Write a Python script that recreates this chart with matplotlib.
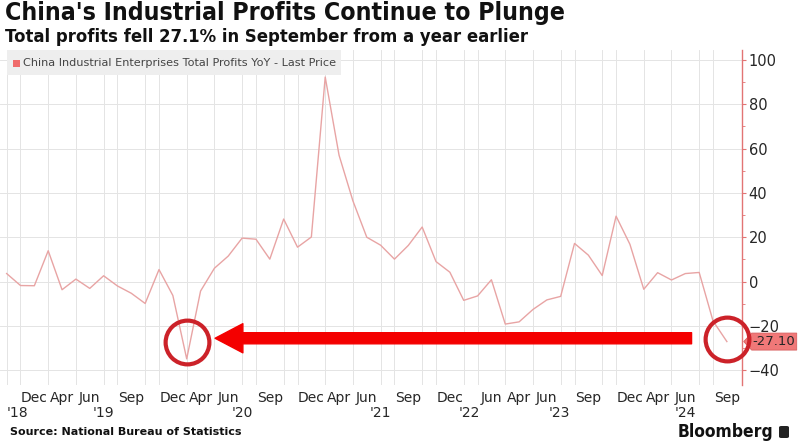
import matplotlib
matplotlib.use("Agg")
import matplotlib.pyplot as plt
import matplotlib.patches as mpatches
from matplotlib.transforms import blended_transform_factory

# monthly YoY change of industrial profits (Jan-Feb not shown, some months missing)
periods = ["2018-10", "2018-11", "2018-12",
           "2019-03", "2019-04", "2019-05", "2019-06", "2019-07", "2019-08",
           "2019-09", "2019-10", "2019-11", "2019-12",
           "2020-03", "2020-04", "2020-05", "2020-06", "2020-07", "2020-08",
           "2020-09", "2020-10", "2020-11", "2020-12",
           "2021-03", "2021-04", "2021-05", "2021-06", "2021-07", "2021-08",
           "2021-09", "2021-10", "2021-11", "2021-12",
           "2022-04", "2022-05", "2022-06",
           "2023-03", "2023-04", "2023-05", "2023-06", "2023-07", "2023-08",
           "2023-09", "2023-10", "2023-11", "2023-12",
           "2024-03", "2024-04", "2024-05", "2024-06", "2024-07", "2024-08",
           "2024-09"]
profits = [3.6, -1.8, -1.9,
           13.9, -3.7, 1.1, -3.1, 2.6, -2.0, -5.3, -9.9, 5.4, -6.3,
           -34.9, -4.3, 6.0, 11.5, 19.6, 19.1, 10.1, 28.2, 15.5, 20.1,
           92.3, 57.0, 36.4, 20.0, 16.4, 10.1, 16.3, 24.6, 9.0, 4.2,
           -8.5, -6.5, 0.8,
           -19.2, -18.2, -12.6, -8.3, -6.7, 17.2, 11.9, 2.7, 29.5, 16.8,
           -3.5, 4.0, 0.7, 3.6, 4.1, -17.8, -27.1]

month_ticks = ["2018-12", "2019-04", "2019-06", "2019-09", "2019-12",
               "2020-04", "2020-06", "2020-09", "2020-12",
               "2021-04", "2021-06", "2021-09", "2021-12",
               "2022-06", "2023-04", "2023-06", "2023-09", "2023-12",
               "2024-04", "2024-06", "2024-09"]
month_names = {"03": "Mar", "04": "Apr", "06": "Jun", "09": "Sep", "12": "Dec"}
year_labels = ["'18", "'19", "'20", "'21", "'22", "'23", "'24"]
year_pos = [0.8, 7.0, 17.0, 27.0, 33.4, 39.9, 49.0]

LINE = "#e8a4a4"
AXRED = "#e27474"
TXT = "#262626"

x = list(range(len(periods)))

fig = plt.figure(figsize=(8, 4.48), dpi=100)
ax = fig.add_axes([0.0, 1 - 385 / 448, 741.7 / 800, 335 / 448])

ax.plot(x, profits, color=LINE, lw=1.0, zorder=3)

ax.set_xlim(-0.48, 53.07)
ax.set_ylim(-46.7, 104.5)

# grid: every data point vertically, every 20 horizontally
ax.set_xticks(x, minor=True)
ax.grid(True, which="minor", axis="x", color="#e4e4e4", lw=0.7)
ax.set_yticks(range(-40, 101, 20))
ax.set_yticks(range(-40, 101, 10), minor=True)
ax.grid(True, which="major", axis="y", color="#e4e4e4", lw=0.7)

tick_idx = [periods.index(p) for p in month_ticks]
ax.set_xticks(tick_idx)
ax.set_xticklabels([month_names[p[5:]] for p in month_ticks], fontsize=10, color=TXT)
ax.tick_params(axis="x", which="both", length=0, pad=4)

ax.yaxis.tick_right()
ax.tick_params(axis="y", which="major", length=3, color=AXRED, labelsize=10.5,
               labelcolor=TXT, pad=2)
ax.tick_params(axis="y", which="minor", length=2, color=AXRED)
for s in ["top", "left", "bottom"]:
    ax.spines[s].set_visible(False)
ax.spines["right"].set_color(AXRED)
ax.spines["right"].set_linewidth(1.0)

trans = blended_transform_factory(ax.transData, fig.transFigure)
for lab, xp in zip(year_labels, year_pos):
    ax.text(xp, 1 - 413 / 448, lab, transform=trans, ha="center", va="center",
            fontsize=10, color=TXT)

# last value tag on the axis
last = profits[-1]
tagtr = blended_transform_factory(ax.transAxes, ax.transData)
w = 1 / 741.7
h = 1 / 2.215
tag = mpatches.Polygon([(1 + 2 * w, last), (1 + 10 * w, last + 8.5 * h),
                        (1 + 55 * w, last + 8.5 * h), (1 + 55 * w, last - 8.5 * h),
                        (1 + 10 * w, last - 8.5 * h)],
                       closed=True, transform=tagtr, clip_on=False,
                       facecolor="#f07878", edgecolor="#d86060", lw=0.6, zorder=5)
ax.add_patch(tag)
ax.text(1 + 32 * w, last, f"{last:.2f}", transform=tagtr, ha="center", va="center",
        fontsize=9.5, color=TXT, zorder=6, clip_on=False)

# red circles and arrow
low = profits.index(min(profits))
ax.plot([low], [-27.5], marker="o", ms=31.5, mfc="none", mec="#cc2229", mew=3.0,
        zorder=6)
ax.plot([x[-1]], [last + 1.0], marker="o", ms=31.5, mfc="none", mec="#cc2229",
        mew=3.0, zorder=6, clip_on=False)
arrow = mpatches.FancyArrowPatch((49.45, -25.6), (15.05, -25.6),
                                 arrowstyle=mpatches.ArrowStyle.Simple(
                                     head_length=20, head_width=21, tail_width=8),
                                 mutation_scale=1, color="#f40000",
                                 shrinkA=0, shrinkB=0, zorder=7)
ax.add_patch(arrow)

# legend box
fig.patches.append(mpatches.Rectangle((7 / 800, 1 - 75 / 448), 334 / 800, 25 / 448,
                                      transform=fig.transFigure, facecolor="#eeeeee",
                                      edgecolor="none", zorder=1))
fig.patches.append(mpatches.Rectangle((13 / 800, 1 - 67 / 448), 7 / 800, 7 / 448,
                                      transform=fig.transFigure, facecolor="#ef6b6b",
                                      edgecolor="none", zorder=2))
fig.text(23 / 800, 1 - 63 / 448, "China Industrial Enterprises Total Profits YoY - Last Price",
         fontsize=8.1, color="#444444", va="center", ha="left", zorder=3)

# titles and footer
fig.text(5 / 800, 1 - 1 / 448, "China's Industrial Profits Continue to Plunge",
         fontsize=17.8, fontweight="bold", color="#111111", va="top", ha="left",
         fontstretch="condensed")
fig.text(5 / 800, 1 - 28 / 448,
         "Total profits fell 27.1% in September from a year earlier",
         fontsize=11.9, fontweight="bold", color="#111111", va="top", ha="left")
fig.text(10 / 800, 1 - 432 / 448, "Source: National Bureau of Statistics",
         fontsize=8.0, fontweight="bold", color="#111111", va="center", ha="left")
fig.text(773 / 800, 1 - 432 / 448, "Bloomberg", fontsize=12.5, fontweight="bold",
         color="#111111", va="center", ha="right", fontstretch="condensed")
fig.patches.append(mpatches.FancyBboxPatch((779 / 800, 1 - 438 / 448), 10 / 800, 12 / 448,
                                           boxstyle="round,pad=0,rounding_size=0.003",
                                           transform=fig.transFigure,
                                           facecolor="#222222", edgecolor="none"))

fig.savefig("out.png", dpi=100, facecolor="white")
